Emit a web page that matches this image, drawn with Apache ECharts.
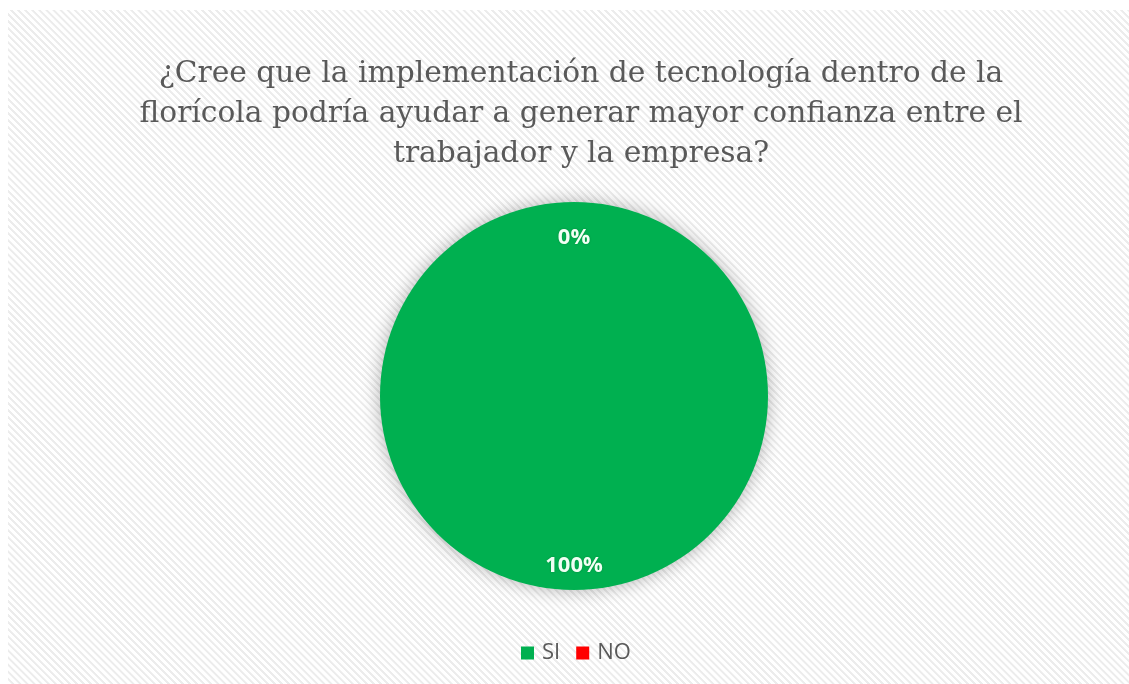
<!DOCTYPE html>
<html><head><meta charset="utf-8">
<script src="https://cdn.jsdelivr.net/npm/echarts@6/dist/echarts.min.js"></script>
<style>
html,body{margin:0;padding:0;background:#fff;width:1129px;height:684px;overflow:hidden}
#bg{position:absolute;left:8px;top:10px;width:1121px;height:674px;
background:repeating-linear-gradient(45deg,#ffffff 0px,#ffffff 2.5px,#ececec 3px,#ececec 4.5px,#ffffff 5px)}
#chart{position:absolute;left:0;top:0;width:1129px;height:684px}
</style></head>
<body><div id="bg"></div><div id="chart"></div>
<script>
const titleText = '¿Cree que la implementación de tecnología dentro de la\nflorícola podría ayudar a generar mayor confianza entre el\ntrabajador y la empresa?';
const categories = ['SI', 'NO'];
const values = [100, 0];
const colors = ['#00B050', '#FF0000'];

const data = categories.map((c, i) => ({name: c, value: values[i], itemStyle: {color: colors[i]}}));
const labelFormats = ['{d}%', '{s|}\n{d}%'];

const chart = echarts.init(document.getElementById('chart'), null, {renderer: 'canvas'});
chart.setOption({
  backgroundColor: 'transparent',
  animation: false,
  title: {
    text: titleText, left: 576, top: 49, textAlign: 'center',
    textStyle: {fontFamily: 'DejaVu Serif', fontSize: 29.7, fontWeight: 'normal', color: '#595959', lineHeight: 40, align: 'center'}
  },
  legend: {
    data: categories, bottom: 15, left: 516, icon: 'rect', itemWidth: 13, itemHeight: 13, itemGap: 16,
    textStyle: {fontFamily: 'Open Sans', fontSize: 22, color: '#595959', padding: [0,0,0,3]}
  },
  series: [{
    type: 'pie', center: [574, 396], radius: 194, startAngle: 90, clockwise: true,
    label: {show: false}, labelLine: {show: false}, silent: true,
    itemStyle: {shadowBlur: 18, shadowColor: 'rgba(0,0,0,0.3)', borderWidth: 0},
    data: data
  },{
    type: 'pie', center: [574, 396], radius: [140, 194], startAngle: 90, clockwise: true,
    silent: true, labelLine: {show: false},
    itemStyle: {color: 'transparent'},
    label: {show: true, position: 'inside', color: '#f0fff4', fontFamily: 'Open Sans', fontWeight: 'bold', fontSize: 22,
      textShadowColor: 'rgba(0,80,30,0.4)', textShadowBlur: 2, rich: {s: {height: 24}}},
    data: categories.map((c, i) => ({name: c, value: values[i], itemStyle: {color: 'transparent'}, label: {formatter: labelFormats[i]}}))
  }]
});
</script></body></html>
